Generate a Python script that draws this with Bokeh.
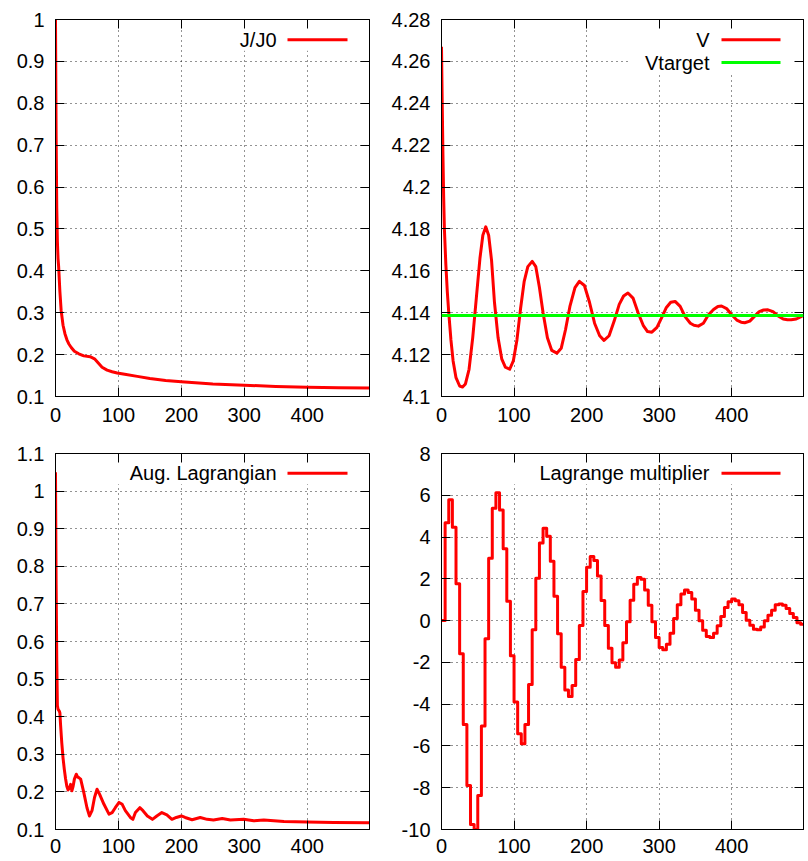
from bokeh.plotting import figure
from bokeh.models import (Range1d, LinearAxis, FixedTicker, NumeralTickFormatter,
                          Label, BoxAnnotation, Arrow, Span)
from bokeh.layouts import column, row
from bokeh.embed import file_html
from bokeh.resources import INLINE

# ---------------- data ----------------
X_MAX = 499

j_iter = [0, 1, 2, 3, 4, 5, 7, 9, 12, 15, 18, 21, 25, 30, 37, 45, 55, 62, 68, 74,
          82, 90, 98, 110, 130, 150, 175, 200, 250, 300, 350, 400, 450, 499]
j_vals = [1.0, 0.72, 0.55, 0.47, 0.43, 0.41, 0.35, 0.305, 0.27, 0.25,
          0.236, 0.226, 0.217, 0.208, 0.202, 0.197, 0.195, 0.19, 0.18, 0.17,
          0.163, 0.159, 0.156, 0.153, 0.148, 0.143, 0.138, 0.135, 0.13, 0.127,
          0.124, 0.122, 0.121, 0.12]

v_iter = [0, 1, 2, 3, 4, 6, 8, 10, 13, 16, 20, 25, 29, 33, 38, 43, 48, 53, 57, 61,
          65, 69, 73, 78, 83, 88, 94, 99, 104, 109, 114, 119, 125, 130, 135, 140, 146, 152, 159, 165,
          171, 177, 184, 190, 197, 204, 211, 218, 224, 231, 238, 245, 251, 257, 264, 271, 278, 284, 290, 297,
          304, 310, 316, 322, 329, 336, 343, 348, 354, 361, 368, 375, 381, 386, 393, 400, 407, 413, 418, 425,
          432, 438, 444, 450, 457, 464, 471, 477, 482, 489, 495, 499]
v_vals = [4.267, 4.24, 4.215, 4.195, 4.18, 4.163, 4.15, 4.14, 4.127, 4.117,
          4.109, 4.105, 4.1045, 4.106, 4.113, 4.128, 4.147, 4.166, 4.177, 4.181,
          4.177, 4.165, 4.145, 4.128, 4.118, 4.114, 4.113, 4.117, 4.127, 4.142,
          4.155, 4.162, 4.1645, 4.162, 4.152, 4.14, 4.128, 4.122, 4.1207, 4.123,
          4.132, 4.143, 4.152, 4.155, 4.153, 4.145, 4.135, 4.129, 4.1268, 4.129,
          4.136, 4.144, 4.148, 4.1494, 4.147, 4.14, 4.134, 4.131, 4.1307, 4.133,
          4.138, 4.1425, 4.145, 4.1454, 4.143, 4.138, 4.135, 4.134, 4.1336, 4.135,
          4.139, 4.1415, 4.143, 4.1432, 4.142, 4.139, 4.1365, 4.1355, 4.1352, 4.136,
          4.1385, 4.1405, 4.1413, 4.1414, 4.1405, 4.1385, 4.137, 4.1366, 4.1366, 4.137,
          4.138, 4.1387]
v_target = 4.1387

al_iter = [0, 1, 2, 3, 4, 6, 7, 8, 10, 12, 14, 16, 18, 20, 22, 24, 26, 28, 30, 33,
           35, 37, 40, 45, 50, 54, 58, 62, 66, 70, 77, 85, 90, 95, 101, 106, 111, 119, 123, 127,
           134, 139, 146, 154, 161, 169, 177, 185, 192, 200, 206, 217, 230, 241, 251, 265, 278, 299, 315, 331,
           363, 400, 442, 499]
al_vals = [1.05, 0.75, 0.55, 0.43, 0.42, 0.415, 0.41, 0.38, 0.33, 0.29,
           0.26, 0.235, 0.215, 0.205, 0.21, 0.22, 0.203, 0.215, 0.234, 0.247,
           0.24, 0.238, 0.234, 0.198, 0.158, 0.136, 0.15, 0.185, 0.207, 0.194,
           0.167, 0.141, 0.145, 0.158, 0.172, 0.167, 0.15, 0.132, 0.127, 0.145,
           0.158, 0.15, 0.136, 0.127, 0.136, 0.145, 0.139, 0.127, 0.132, 0.136,
           0.132, 0.126, 0.132, 0.127, 0.125, 0.129, 0.125, 0.127, 0.123, 0.125,
           0.121, 0.12, 0.1186, 0.1177]

# Lagrange multiplier: updated every 5 iterations (piecewise constant)
lm_block = 5
lm_vals = [0.0, 4.68, 5.78, 4.47, 1.76, -1.59, -4.97, -7.89, -9.76, -10.0,
           -8.37, -5.05, -0.87, 2.99, 5.38, 6.12, 5.30, 3.44, 0.93, -1.68,
           -3.90, -5.42, -5.90, -4.97, -3.06, -0.44, 2.03, 3.72, 4.42, 4.04,
           2.84, 1.17, -0.63, -2.23, -3.32, -3.63, -3.11, -1.86, -0.24, 1.39,
           2.56, 3.07, 2.88, 2.13, 0.96, -0.24, -1.32, -2.02, -2.23, -1.89,
           -1.06, -0.05, 0.98, 1.74, 2.06, 1.98, 1.46, 0.74, -0.06, -0.81,
           -1.29, -1.40, -1.13, -0.60, 0.10, 0.76, 1.27, 1.46, 1.35, 1.03,
           0.50, -0.01, -0.46, -0.76, -0.81, -0.60, -0.25, 0.20, 0.63, 0.90,
           1.03, 0.95, 0.76, 0.39, 0.02, -0.22, -0.41, -0.44, -0.30, -0.01,
           0.26, 0.50, 0.76, 0.79, 0.74, 0.58, 0.34, 0.15, -0.10, -0.17]
lm_iter = [lm_block * k for k in range(len(lm_vals) + 1)]
lm_plot_vals = lm_vals + [lm_vals[-1]]

x_ticks = [0, 100, 200, 300, 400]
tl_yticks = [0.1, 0.2, 0.3, 0.4, 0.5, 0.6, 0.7, 0.8, 0.9, 1.0]
tr_yticks = [4.1, 4.12, 4.14, 4.16, 4.18, 4.2, 4.22, 4.24, 4.26, 4.28]
bl_yticks = [0.1, 0.2, 0.3, 0.4, 0.5, 0.6, 0.7, 0.8, 0.9, 1.0, 1.1]
br_yticks = [-10, -8, -6, -4, -2, 0, 2, 4, 6, 8]

# ---------------- styling ----------------
FONT = "Liberation Sans"
FS = "20px"
RED = "#ff0000"
GREEN = "#00ff00"


def panel(w, h, bl, br, bt, bb, ylo, yhi, yticks, yfmt, xstand):
    p = figure(width=w, height=h, x_range=Range1d(0, X_MAX), y_range=Range1d(ylo, yhi),
               output_backend="svg", toolbar_location=None,
               min_border_left=bl, min_border_right=br,
               min_border_top=bt, min_border_bottom=bb)
    p.background_fill_color = "white"
    p.border_fill_color = "white"
    p.outline_line_color = "black"
    p.outline_line_alpha = 1.0
    p.outline_line_width = 1
    xa, ya = p.xaxis[0], p.yaxis[0]
    xa.ticker = FixedTicker(ticks=x_ticks)
    ya.ticker = FixedTicker(ticks=yticks)
    xa.formatter = NumeralTickFormatter(format="0")
    ya.formatter = NumeralTickFormatter(format=yfmt)
    xa.major_label_standoff = xstand
    ya.major_label_standoff = 11
    # mirrored tick marks (no labels) on the right and top edges
    ra = LinearAxis(ticker=FixedTicker(ticks=yticks))
    ta = LinearAxis(ticker=FixedTicker(ticks=x_ticks))
    for ax in (ra, ta):
        ax.major_label_text_font_size = "1px"
        ax.major_label_text_color = None
        ax.major_label_standoff = 0
    p.add_layout(ra, "right")
    p.add_layout(ta, "above")
    for ax in (xa, ya, ra, ta):
        ax.major_tick_in = 9
        ax.major_tick_out = 0
        ax.minor_tick_line_color = None
        ax.major_tick_line_color = "black"
        ax.major_tick_line_width = 1
        ax.axis_line_color = "black"
        ax.major_label_text_font = FONT
    for ax in (xa, ya):
        ax.major_label_text_font_size = FS
        ax.major_label_text_color = "black"
    for g in (p.xgrid, p.ygrid):
        g.grid_line_color = "black"
        g.grid_line_alpha = 0.85
        g.grid_line_dash = "1 4"
        g.grid_line_width = 1
    return p


def add_key(p, fw, fh, entries, box_left, box_bottom):
    p.add_layout(BoxAnnotation(left=box_left, right=fw, bottom=box_bottom, top=fh,
                               left_units="screen", right_units="screen",
                               bottom_units="screen", top_units="screen",
                               fill_color="white", fill_alpha=1.0, line_color=None,
                               level="underlay"))
    for text, color, y, tx, sx0, sx1 in entries:
        p.add_layout(Label(x=tx, y=y, x_units="screen", y_units="screen", text=text,
                           text_align="right", text_baseline="middle",
                           text_font=FONT, text_font_size=FS, text_color="black"))
        p.add_layout(Arrow(x_start=sx0, y_start=y, x_end=sx1, y_end=y,
                           start_units="screen", end_units="screen", end=None,
                           line_color=color, line_width=3))


# geometry (page origin at 0,0)
LW, RW = 385, 423
TH, BH = 430, 431
L_BL, L_BR = 55, 16
R_BL, R_BR = 56, 5
T_BT, T_BB = 19, 34
B_BT, B_BB = 23, 32
LFW = LW - L_BL - L_BR      # 314
RFW = RW - R_BL - R_BR      # 362
TFH = TH - T_BT - T_BB      # 377
BFH = BH - B_BT - B_BB      # 376

# top-left
p1 = panel(LW, TH, L_BL, L_BR, T_BT, T_BB, 0.1, 1.0, tl_yticks, "0.[0]", 11)
p1.line(j_iter, j_vals, line_color=RED, line_width=3, line_join="round")
y = TFH - 20.3
add_key(p1, LFW, TFH, [("J/J0", RED, y, LFW - 93, LFW - 82, LFW - 22)], 170, y - 11)

# top-right
p2 = panel(RW, TH, R_BL, R_BR, T_BT, T_BB, 4.1, 4.28, tr_yticks, "0.[00]", 11)
p2.line(v_iter, v_vals, line_color=RED, line_width=3, line_join="round")
p2.add_layout(Span(location=v_target, dimension="width", line_color=GREEN, line_width=3))
y1 = TFH - 20.3
y2 = TFH - 43
add_key(p2, RFW, TFH, [("V", RED, y1, RFW - 94, RFW - 82, RFW - 23),
                       ("Vtarget", GREEN, y2, RFW - 94, RFW - 82, RFW - 23)], 187, y2 - 11)

# bottom-left
p3 = panel(LW, BH, L_BL, L_BR, B_BT, B_BB, 0.1, 1.1, bl_yticks, "0.[0]", 9)
p3.line(al_iter, al_vals, line_color=RED, line_width=3, line_join="round")
y = BFH - 19.7
add_key(p3, LFW, BFH, [("Aug. Lagrangian", RED, y, LFW - 93, LFW - 82, LFW - 22)], 52, y - 11)

# bottom-right
p4 = panel(RW, BH, R_BL, R_BR, B_BT, B_BB, -10, 8, br_yticks, "0", 9)
p4.step(lm_iter, lm_plot_vals, mode="after", line_color=RED, line_width=3, line_join="round")
y = BFH - 19.7
add_key(p4, RFW, BFH, [("Lagrange multiplier", RED, y, RFW - 94, RFW - 82, RFW - 23)], 70, y - 11)

layout = column(row(p1, p2), row(p3, p4))

open("out.html", "w").write(file_html(layout, INLINE))
